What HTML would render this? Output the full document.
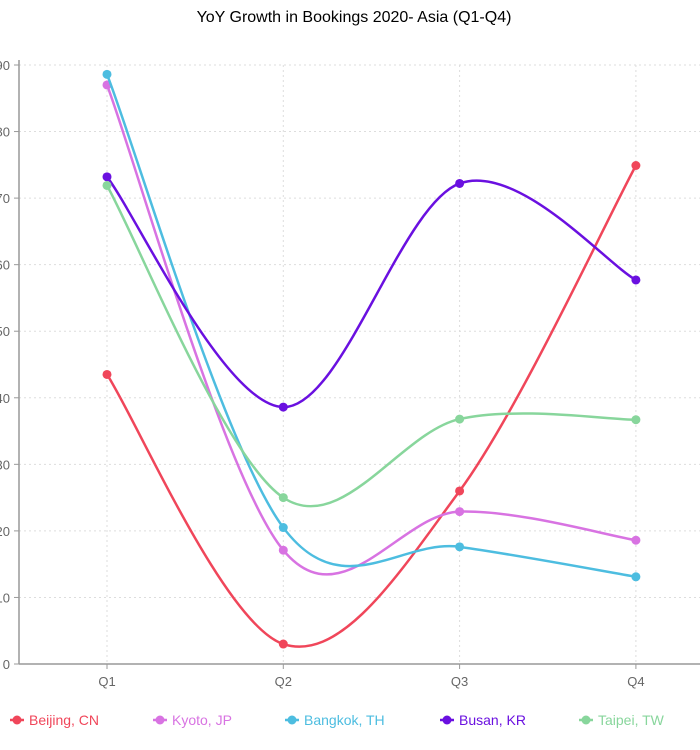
<!DOCTYPE html>
<html><head><meta charset="utf-8"><style>
body{margin:0;background:#fff;font-family:"Liberation Sans",Arial,sans-serif;}
svg{display:block}
</style></head><body>
<svg id="chart" width="700" height="750">
<text x="354" y="22" text-anchor="middle" font-size="16" fill="#000">YoY Growth in Bookings 2020- Asia (Q1-Q4)</text>
<g id="grid"></g><g id="axes"></g><g id="series"></g><g id="legend"></g>
</svg>
<script>
const categories=["Q1","Q2","Q3","Q4"];
const yTicks=[0,10,20,30,40,50,60,70,80,90];
const seriesNames=["Beijing, CN","Kyoto, JP","Bangkok, TH","Busan, KR","Taipei, TW"];
const seriesColors=["#f0465a","#d873e2","#4dbde0","#6a10e0","#88d69c"];
const beijing=[43.5,3.0,26.0,74.9];
const kyoto=[87.0,17.1,22.9,18.6];
const bangkok=[88.6,20.5,17.6,13.1];
const busan=[73.2,38.6,72.2,57.7];
const taipei=[71.9,25.0,36.8,36.7];
const seriesValues=[beijing,kyoto,bangkok,busan,taipei];

const NS="http://www.w3.org/2000/svg";
const x0=19,x1=700,y0=664,y1=65;
const x=i=>107+i*176.3;
const y=v=>y0-(v/90)*(y0-y1);
function mk(tag,attrs,parent){const e=document.createElementNS(NS,tag);for(const k in attrs)e.setAttribute(k,attrs[k]);parent.appendChild(e);return e;}
const grid=document.getElementById('grid'),axes=document.getElementById('axes'),ser=document.getElementById('series'),leg=document.getElementById('legend');
yTicks.forEach(t=>{
 const l=mk('line',{x1:x0,x2:x1,y1:y(t),y2:y(t),stroke:'#ddd','stroke-dasharray':'2,3'},grid);
 
 
 mk('line',{x1:14,x2:x0,y1:y(t),y2:y(t),stroke:'#999'},axes);
 const tx=mk('text',{x:10,y:y(t)+5,'text-anchor':'end','font-size':'13',fill:'#666'},axes);
 tx.textContent=t;
 
 
});
categories.forEach((c,i)=>{
 const l=mk('line',{x1:x(i),x2:x(i),y1:y1,y2:y0,stroke:'#ddd','stroke-dasharray':'2,3'},grid);
 
 
 mk('line',{x1:x(i),x2:x(i),y1:y0,y2:y0+5,stroke:'#999'},axes);
 const tx=mk('text',{x:x(i),y:y0+22,'text-anchor':'middle','font-size':'13',fill:'#666'},axes);
 tx.textContent=c;
 
 
});
const ya=mk('line',{x1:x0,x2:x0,y1:y1-5,y2:y0,stroke:'#999','stroke-width':1.5},axes);


const xa=mk('line',{x1:x0,x2:x1,y1:y0,y2:y0,stroke:'#999','stroke-width':1.5},axes);



function smoothPath(pts){
 const n=pts.length;
 let s=`M${pts[0][0]},${pts[0][1]}`;
 for(let i=0;i<n-1;i++){
  const p0=pts[Math.max(i-1,0)],p1=pts[i],p2=pts[i+1],p3=pts[Math.min(i+2,n-1)];
  const c1=[p1[0]+(p2[0]-p0[0])/6,p1[1]+(p2[1]-p0[1])/6];
  const c2=[p2[0]-(p3[0]-p1[0])/6,p2[1]-(p3[1]-p1[1])/6];
  s+=` C${c1[0]},${c1[1]} ${c2[0]},${c2[1]} ${p2[0]},${p2[1]}`;
 }
 return s;
}
seriesValues.forEach((vals,si)=>{
 const g=mk('g',{},ser);
 
 
 const pts=vals.map((v,i)=>[x(i),y(v)]);
 const p=mk('path',{d:smoothPath(pts),fill:'none',stroke:seriesColors[si],'stroke-width':2.5},g);
 
 
 pts.forEach(pt=>{
  const c=mk('circle',{cx:pt[0],cy:pt[1],r:4.5,fill:seriesColors[si]},g);
  
  
 });
});
const legX=[17,160,292,447,586];
seriesNames.forEach((n,i)=>{
 const g=mk('g',{},leg);
 
 
 mk('line',{x1:legX[i]-7,x2:legX[i]+7,y1:720,y2:720,stroke:seriesColors[i],'stroke-width':2.5},g);
 mk('circle',{cx:legX[i],cy:720,r:4.5,fill:seriesColors[i]},g);
 const t=mk('text',{x:legX[i]+12,y:725,'font-size':'14',fill:seriesColors[i]},g);
 t.textContent=n;
});
</script>
</body></html>
